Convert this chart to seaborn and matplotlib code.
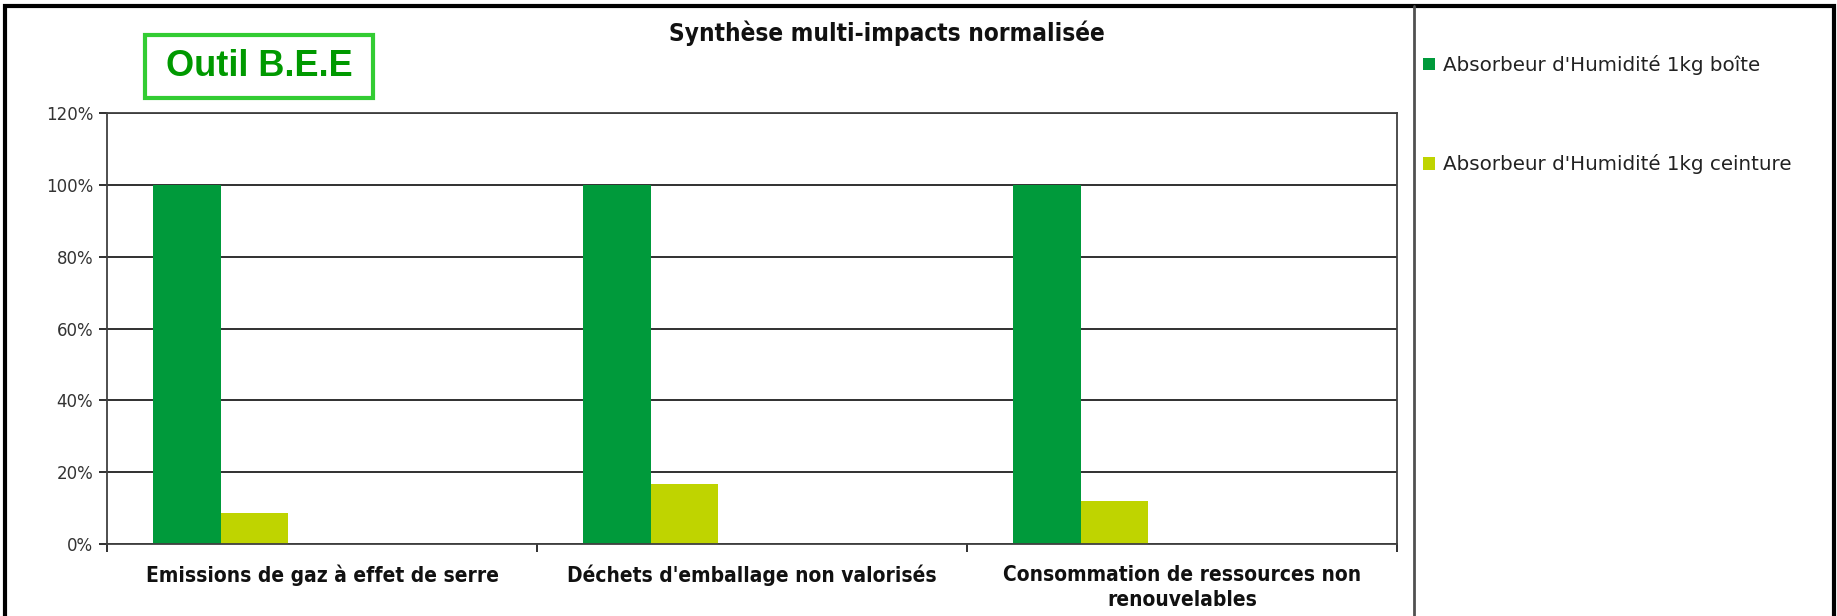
import matplotlib
matplotlib.use("Agg")
import matplotlib.pyplot as plt
from matplotlib.patches import Rectangle, Patch
from matplotlib.lines import Line2D
from matplotlib.ticker import FuncFormatter, FixedLocator
import pandas as pd
import seaborn as sns

# ── Data ──────────────────────────────────────────────────────────────────────
CATEGORIES = [
    "Emissions de gaz à effet de serre",
    "Déchets d'emballage non valorisés",
    "Consommation de ressources non\nrenouvelables",
]
SERIES = ["Absorbeur d'Humidité 1kg boîte", "Absorbeur d'Humidité 1kg ceinture"]
BOITE = [100, 100, 100]
CEINTURE = [8.7, 16.6, 12.0]
Y_TICKS = [0, 20, 40, 60, 80, 100, 120]

# Excel keeps three empty series slots after the two real ones
EMPTY_SLOTS = ["_s3", "_s4", "_s5"]
COLORS = {SERIES[0]: "#009A3B", SERIES[1]: "#BFD400"}

W, H = 1837, 616

df = pd.DataFrame({
    "categorie": CATEGORIES * 2,
    "valeur": BOITE + CEINTURE,
    "serie": [SERIES[0]] * 3 + [SERIES[1]] * 3,
})

sns.set_theme(style="white")
plt.rcParams["font.family"] = ["DejaVu Sans"]

fig = plt.figure(figsize=(W / 100, H / 100), dpi=100)
fig.patch.set_facecolor("white")

ax = fig.add_axes([107 / W, 1 - 544 / H, (1397 - 107) / W, (544 - 113) / H])

palette = dict(COLORS)
palette.update({s: "white" for s in EMPTY_SLOTS})
sns.barplot(data=df, x="categorie", y="valeur", hue="serie",
            order=CATEGORIES, hue_order=SERIES + EMPTY_SLOTS,
            palette=palette, width=0.785, saturation=1, legend=False,
            linewidth=0, ax=ax)

ax.set_ylim(0, 120)
ax.set_xlim(-0.5, 2.5)
ax.set_yticks(Y_TICKS)
ax.yaxis.set_major_formatter(FuncFormatter(lambda v, _: f"{v:.0f}%"))
ax.yaxis.grid(True, color="#202020", linewidth=1.3)
ax.set_axisbelow(True)
ax.set_xlabel("")
ax.set_ylabel("")

for side, sp in ax.spines.items():
    sp.set_visible(True)
    sp.set_color("#404040")
    sp.set_linewidth(1.3)

ax.tick_params(axis="y", which="major", left=True, length=6, width=1.3,
               color="#202020", labelsize=12, labelcolor="#333333", pad=4)
ax.tick_params(axis="x", which="major", bottom=False, length=0,
               labelsize=15, pad=15)
ax.xaxis.set_minor_locator(FixedLocator([-0.5, 0.5, 1.5, 2.5]))
ax.tick_params(axis="x", which="minor", bottom=True, length=6, width=1.3,
               color="#202020")
for lbl in ax.get_xticklabels():
    lbl.set_fontweight("bold")
    lbl.set_fontstretch("condensed")
    lbl.set_color("#111111")
    lbl.set_linespacing(1.35)

# ── Title and tool label ──────────────────────────────────────────────────────
fig.text(887 / W, 1 - 33 / H, "Synthèse multi-impacts normalisée",
         ha="center", va="center", fontsize=17.5, fontweight="bold",
         fontstretch="condensed", color="#111111")

fig.patches.append(Rectangle((145 / W, 1 - 98 / H), (373 - 145) / W, (98 - 35) / H,
                             transform=fig.transFigure, fill=False,
                             edgecolor="#33CC33", linewidth=3))
fig.text(259 / W, 1 - 67 / H, "Outil B.E.E", ha="center", va="center",
         fontsize=26, fontweight="bold", color="#009900",
         family=["Liberation Sans Narrow", "Liberation Sans", "DejaVu Sans"])

# ── Frame and separator ───────────────────────────────────────────────────────
fig.patches.append(Rectangle((5 / W, -0.02), (1834 - 5) / W, 1.02 - 6 / H,
                             transform=fig.transFigure, fill=False,
                             edgecolor="black", linewidth=3))
fig.lines.append(Line2D([1414 / W, 1414 / W], [0, 1 - 6 / H],
                        transform=fig.transFigure, color="#505050", linewidth=2))

# ── Legend ────────────────────────────────────────────────────────────────────
handles = [Patch(facecolor=COLORS[s], edgecolor="none", label=s) for s in SERIES]
fig.legend(handles=handles, loc="upper left",
           bbox_to_anchor=(1405 / W, 1 - 37 / H), frameon=False,
           fontsize=14.3, handlelength=0.6, handleheight=0.6,
           handletextpad=0.4, labelspacing=4.0, labelcolor="#222222")

fig.savefig("out.png", dpi=100)
